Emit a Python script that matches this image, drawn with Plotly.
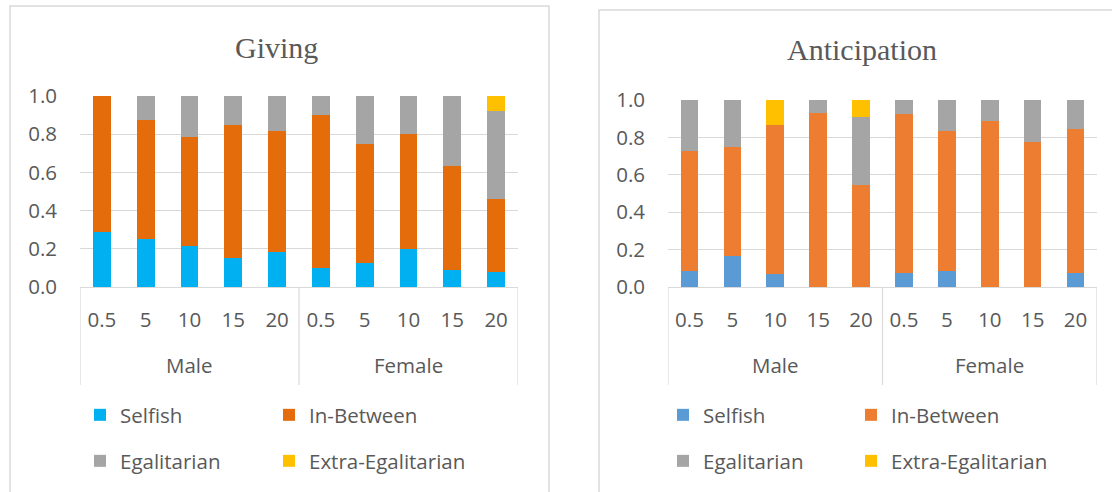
import plotly.graph_objects as go

# ---------------- data ----------------
groups = ["Male", "Female"]
amounts = ["0.5", "5", "10", "15", "20"]
categories = [f"{g} {a}" for g in groups for a in amounts]
tick_labels = amounts * 2
series_names = ["Selfish", "In-Between", "Egalitarian", "Extra-Egalitarian"]

giving_selfish = [0.286, 0.250, 0.214, 0.154, 0.182, 0.100, 0.125, 0.200, 0.091, 0.077]
giving_inbetween = [0.714, 0.625, 0.571, 0.692, 0.636, 0.800, 0.625, 0.600, 0.545, 0.385]
giving_egalitarian = [0.000, 0.125, 0.214, 0.154, 0.182, 0.100, 0.250, 0.200, 0.364, 0.461]
giving_extra = [0.000, 0.000, 0.000, 0.000, 0.000, 0.000, 0.000, 0.000, 0.000, 0.077]

antic_selfish = [0.083, 0.167, 0.067, 0.000, 0.000, 0.077, 0.083, 0.000, 0.000, 0.077]
antic_inbetween = [0.642, 0.583, 0.800, 0.933, 0.545, 0.846, 0.750, 0.889, 0.778, 0.769]
antic_egalitarian = [0.275, 0.250, 0.000, 0.067, 0.364, 0.077, 0.167, 0.111, 0.222, 0.154]
antic_extra = [0.000, 0.000, 0.133, 0.000, 0.091, 0.000, 0.000, 0.000, 0.000, 0.000]

y_ticks = [0.0, 0.2, 0.4, 0.6, 0.8, 1.0]

giving_colors = ["#00B0F0", "#E46C0A", "#A5A5A5", "#FFC000"]
antic_colors = ["#5B9BD5", "#ED7D31", "#A5A5A5", "#FFC000"]

# ---------------- layout helpers ----------------
W, H = 1112, 492
TXT = "#595959"
GRID = "#D9D9D9"
SANS = "Open Sans"
SERIF = "Liberation Serif"
FS = 20.5


def px(x):
    return x / W


def py(y):
    return 1 - y / H


fig = go.Figure()

giving_series = [giving_selfish, giving_inbetween, giving_egalitarian, giving_extra]
antic_series = [antic_selfish, antic_inbetween, antic_egalitarian, antic_extra]
legend_widths = [144, 230, 144, 230]

for i, (name, vals) in enumerate(zip(series_names, giving_series)):
    fig.add_trace(go.Bar(
        x=categories, y=vals, name=name, width=0.41,
        marker=dict(color=giving_colors[i], line=dict(width=0)),
        xaxis="x", yaxis="y", legendwidth=legend_widths[i],
        legend="legend" if i < 2 else "legend2",
    ))

for i, (name, vals) in enumerate(zip(series_names, antic_series)):
    fig.add_trace(go.Bar(
        x=categories, y=vals, name=name, width=0.41,
        marker=dict(color=antic_colors[i], line=dict(width=0)),
        xaxis="x2", yaxis="y2", legendwidth=legend_widths[i] - (1 if i % 2 == 0 else 0),
        legend="legend3" if i < 2 else "legend4",
    ))


def xaxis_cfg(domain, anchor):
    return dict(
        domain=domain, anchor=anchor, type="category", categoryorder="array",
        categoryarray=categories, tickvals=categories, ticktext=tick_labels,
        range=[-0.5, 9.5], showline=True, linecolor=GRID, linewidth=1,
        showgrid=False, zeroline=False, ticks="", automargin=False,
        tickfont=dict(family=SANS, size=FS, color=TXT),
        ticklabelstandoff=14, fixedrange=True,
    )


def yaxis_cfg(domain, anchor):
    return dict(
        domain=domain, anchor=anchor, range=[0, 1], tickvals=y_ticks,
        tickformat=".1f", showgrid=True, gridcolor=GRID, gridwidth=1,
        zeroline=False, showline=False, ticks="", automargin=False,
        tickfont=dict(family=SANS, size=FS, color=TXT),
        ticklabelstandoff=22, fixedrange=True,
    )


def legend_cfg(x, y):
    return dict(
        orientation="h", x=px(x), xanchor="left", y=py(y), yanchor="middle",
        entrywidthmode="pixels", bgcolor="rgba(0,0,0,0)",
        font=dict(family=SANS, size=FS, color=TXT), traceorder="normal",
    )


shapes = []
# chart borders
shapes.append(dict(type="rect", xref="paper", yref="paper",
                   x0=px(10), x1=px(549), y0=py(520), y1=py(6),
                   line=dict(color=GRID, width=1.5), layer="below"))
shapes.append(dict(type="rect", xref="paper", yref="paper",
                   x0=px(599), x1=px(1140), y0=py(520), y1=py(10),
                   line=dict(color=GRID, width=1.5), layer="below"))
# category group dividers
for xr in ["x", "x2"]:
    for xv in [-0.5, 4.5, 9.5]:
        shapes.append(dict(type="line", xref=xr, yref="paper",
                           x0=xv, x1=xv, y0=py(287), y1=py(385),
                           line=dict(color=GRID, width=1.2)))

annotations = []
annotations.append(dict(text="Giving", x=px(276), y=py(47), xref="paper", yref="paper",
                        showarrow=False, font=dict(family=SERIF, size=30, color=TXT),
                        xanchor="center", yanchor="middle"))
annotations.append(dict(text="Anticipation", x=px(862), y=py(50), xref="paper", yref="paper",
                        showarrow=False, font=dict(family=SERIF, size=30, color=TXT),
                        xanchor="center", yanchor="middle"))
for xr in ["x", "x2"]:
    for g in groups:
        annotations.append(dict(text=g, x=f"{g} 10", xref=xr, y=py(365), yref="paper",
                                showarrow=False, font=dict(family=SANS, size=FS, color=TXT),
                                xanchor="center", yanchor="middle"))

fig.update_layout(
    width=W, height=H, autosize=False,
    margin=dict(l=0, r=0, t=0, b=0, pad=0, autoexpand=False),
    paper_bgcolor="white", plot_bgcolor="white",
    barmode="stack",
    xaxis=xaxis_cfg([px(80), px(518)], "y"),
    yaxis=yaxis_cfg([py(287), py(96)], "x"),
    xaxis2=xaxis_cfg([px(668), px(1097)], "y2"),
    yaxis2=yaxis_cfg([py(287), py(100)], "x2"),
    legend=legend_cfg(80, 415),
    legend2=legend_cfg(80, 461),
    legend3=legend_cfg(663, 415),
    legend4=legend_cfg(663, 461),
    shapes=shapes, annotations=annotations,
    font=dict(family=SANS, color=TXT),
)

fig.write_html(
    "out.html",
    config={"displayModeBar": False, "staticPlot": False},
    post_script="document.body.style.margin='0';document.body.style.overflow='hidden';",
)
